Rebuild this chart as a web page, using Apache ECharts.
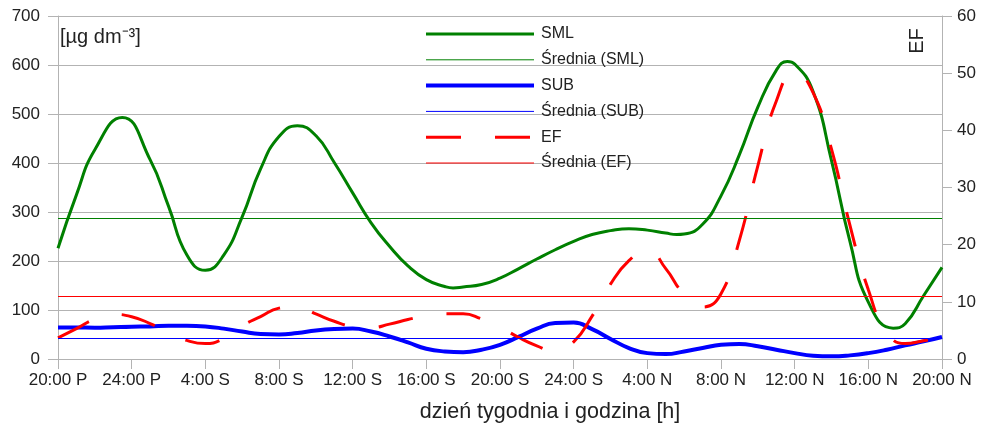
<!DOCTYPE html>
<html>
<head>
<meta charset="utf-8">
<script src="https://cdn.jsdelivr.net/npm/echarts@6/dist/echarts.min.js"></script>
<style>
html,body{margin:0;padding:0;background:#fff;}
#c{width:986px;height:426px;}
</style>
</head>
<body>
<div id="c"></div>
<script>
// x = hours since Friday 20:00 (P = piątek, S = sobota, N = niedziela)
var tickLabels = ['20:00 P','24:00 P','4:00 S','8:00 S','12:00 S','16:00 S','20:00 S','24:00 S','4:00 N','8:00 N','12:00 N','16:00 N','20:00 N'];
var hours = [0,1,2,3,4,5,6,7,8,9,10,11,12,13,14,15,16,17,18,19,20,21,22,23,24,
  25,26,27,28,29,30,31,32,33,34,35,36,37,38,39,40,41,42,43,44,45,46,47,48];
var smlHours = [0,1,2,3.49,5,6,7,8,9,10,11,12,13,14,15,16,17,18,19,20,21,21.45,22,23,24,
  25,26,27,28,29,30,31,32,33,33.6,34,35,36,37,38,39,39.6,40,41,42,43,44,45.35,46,47,48];
var smlValues = [226,335,427,493,407,312,212,181,212,290,388,454,476,456,401,339,278,230,190,162,148,145,147,152,165,
  184,204,223,240,254,262,266,263,257,254,255,275,333,417,514,589,607,602,546,405,240,116,63,72,129,187];
var subValues = [64.5,64.5,64,65,66,66.5,68,68,66.5,62,56,51,50,53,58,61,62,
  56,46,34,21,15.5,14,19,29,45,62,73.5,74.5,61,41,22.4,
  12,10,15.5,22.4,29,30.5,26,19,12,6.8,5.4,7.4,12,19,27.8,36,45];
var efValues = [3.7,5.3,7.0,7.8,7.4,6.2,4.6,3.25,2.7,3.6,5.8,7.4,8.9,9.2,7.9,6.6,5.7,
  5.5,6.1,6.9,7.6,7.9,7.9,7.0,5.6,3.8,2.3,1.3,3.0,7.5,13.1,17.2,
  19.2,15.8,11.3,9.1,11.4,20.8,33.8,45.1,50.3,46.6,36.7,23.4,12.1,4.7,2.7,3.2,3.8];
var smlMean = 287.5;
var subMean = 41.5;
var efMean = 11.0;
var xTicks = {min: 0, max: 48, interval: 4};
var leftTicks = {min: 0, max: 700, interval: 100};
var rightTicks = {min: 0, max: 60, interval: 10};
var seriesNames = ['SML', 'Średnia (SML)', 'SUB', 'Średnia (SUB)', 'EF', 'Średnia (EF)'];

var GREEN = '#008000', BLUE = '#0000ff', RED = '#ff0000', GRID = '#b3b3b3', TXT = '#222';
var FONT = 'Liberation Sans, Arial, sans-serif';

function pairs(xs, ys) { return ys.map(function (v, i) { return [xs[i], v]; }); }

function meanSeries(name, value, color, axisIndex) {
  return {
    name: name, type: 'line', yAxisIndex: axisIndex, data: [], symbol: 'none',
    lineStyle: {color: color, width: 1}, itemStyle: {color: color},
    markLine: {silent: true, symbol: 'none', label: {show: false},
      lineStyle: {color: color, width: 1, type: 'solid', opacity: 1},
      emphasis: {disabled: true},
      data: [{yAxis: value}]}
  };
}

var chart = echarts.init(document.getElementById('c'), null, {renderer: 'canvas'});
chart.setOption({
  animation: false,
  backgroundColor: '#fff',
  textStyle: {fontFamily: FONT},
  grid: {left: 58, right: 44, top: 16, bottom: 67, containLabel: false},
  legend: {
    orient: 'vertical', left: 424, top: 26, padding: 0, itemWidth: 108, itemHeight: 14, itemGap: 9.8,
    data: seriesNames,
    itemStyle: {opacity: 0},
    lineStyle: {width: 'inherit'},
    textStyle: {fontFamily: FONT, fontSize: 16, color: TXT, padding: [0, 0, 0, 2]}
  },
  xAxis: {
    type: 'value', min: xTicks.min, max: xTicks.max, interval: xTicks.interval,
    axisLine: {show: true, onZero: false, lineStyle: {color: GRID}},
    axisTick: {show: true, length: 10, lineStyle: {color: GRID}},
    axisLabel: {color: TXT, fontSize: 17, fontFamily: FONT, margin: 13,
      formatter: function (v) { return tickLabels[Math.round((v - xTicks.min) / xTicks.interval)]; }},
    splitLine: {show: false}
  },
  yAxis: [{
    type: 'value', min: leftTicks.min, max: leftTicks.max, interval: leftTicks.interval,
    axisLine: {show: true, lineStyle: {color: GRID}},
    axisTick: {show: true, length: 10, lineStyle: {color: GRID}},
    axisLabel: {color: TXT, fontSize: 17, fontFamily: FONT, margin: 18},
    splitLine: {show: true, lineStyle: {color: GRID, width: 1}}
  }, {
    type: 'value', min: rightTicks.min, max: rightTicks.max, interval: rightTicks.interval, position: 'right',
    axisLine: {show: true, lineStyle: {color: GRID}},
    axisTick: {show: true, length: 10, lineStyle: {color: GRID}},
    axisLabel: {color: TXT, fontSize: 17, fontFamily: FONT, margin: 15},
    splitLine: {show: false}
  }],
  graphic: [
    {type: 'text', left: 60, top: 27, style: {text: '[µg dm⁻³]', font: '20px ' + FONT, fill: TXT}},
    {type: 'text', x: 917, y: 41, rotation: Math.PI / 2,
      style: {text: 'EF', font: '20px ' + FONT, fill: TXT, align: 'center', verticalAlign: 'middle'}},
    {type: 'text', x: 550, y: 412,
      style: {text: 'dzień tygodnia i godzina [h]', font: '21.5px ' + FONT, fill: TXT, align: 'center', verticalAlign: 'middle'}}
  ],
  series: [
    {name: 'SML', type: 'line', data: pairs(smlHours, smlValues), smooth: true, symbol: 'none', yAxisIndex: 0,
      lineStyle: {color: GREEN, width: 3}, itemStyle: {color: GREEN}, z: 3},
    meanSeries('Średnia (SML)', smlMean, GREEN, 0),
    {name: 'SUB', type: 'line', data: pairs(hours, subValues), smooth: true, symbol: 'none', yAxisIndex: 0,
      lineStyle: {color: BLUE, width: 4}, itemStyle: {color: BLUE}, z: 3},
    meanSeries('Średnia (SUB)', subMean, BLUE, 0),
    {name: 'EF', type: 'line', data: pairs(hours, efValues), smooth: true, symbol: 'none', yAxisIndex: 1,
      lineStyle: {color: RED, width: 3, type: [35, 34]}, itemStyle: {color: RED}, z: 4},
    meanSeries('Średnia (EF)', efMean, RED, 1)
  ]
});
</script>
</body>
</html>
